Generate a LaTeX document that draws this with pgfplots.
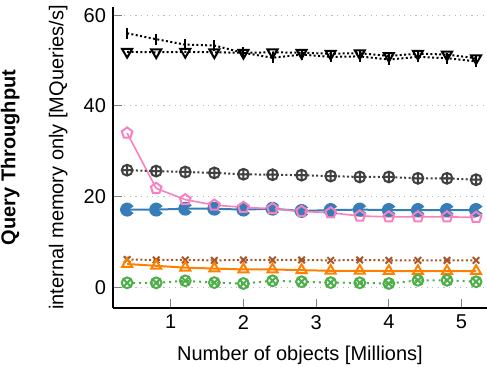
\documentclass[border=0pt]{standalone}
\usepackage{fontspec}
\setmainfont{Liberation Sans}
\usepackage{pgfplots}
\pgfplotsset{compat=1.18}
\definecolor{cblack}{HTML}{000000}
\definecolor{cdgray}{HTML}{404040}
\definecolor{cpink}{HTML}{F781BF}
\definecolor{cblue}{HTML}{377EB8}
\definecolor{cbrown}{HTML}{A65628}
\definecolor{corange}{HTML}{FF7F00}
\definecolor{cgreen}{HTML}{4DAF4A}
\pgfdeclareplotmark{pacman}{%
  \pgfpathmoveto{\pgfpointorigin}%
  \pgfpathlineto{\pgfpointpolar{35}{\pgfplotmarksize}}%
  \pgfpatharc{35}{325}{\pgfplotmarksize}%
  \pgfpathclose
  \pgfusepathqfillstroke}
\begin{document}
\begin{tikzpicture}
\begin{axis}[
  scale only axis,
  width=187pt, height=150.5pt,
  xmin=0.206, xmax=5.35,
  ymin=-4.6, ymax=61.8,
  axis lines*=left,
  axis line style={-, line width=1pt},
  xtick={1,2,3,4,5},
  ytick={0,20,40,60},
  tick align=inside,
  major tick length=4.5pt,
  tick style={gray, line width=0.5pt},
  ymajorgrids,
  major grid style={gray!55, dash pattern=on 0.6pt off 2.2pt, line width=0.5pt},
  /pgf/number format/assume math mode=true,
  ticklabel style={font=\normalsize},
  xlabel={Number of objects [Millions]},
  xlabel style={at={(axis description cs:0.5,0)}, anchor=center, yshift=-23.5pt},
  ylabel={\textbf{Query Throughput}\\[12pt]internal memory only [MQueries/s]},
  ylabel style={align=center, at={(axis description cs:-0.211,0.5)}, anchor=center, rotate=0},
  every axis plot/.append style={line width=1pt},
]
% blue pacman
\addplot[color=cblue, mark=pacman, mark size=3pt, mark options={solid, fill=cblue}] coordinates {
(0.4,17.1)(0.8,17.1)(1.2,17.3)(1.6,17.3)(2.0,17.1)(2.4,17.3)(2.8,16.8)(3.2,17.0)(3.6,17.1)(4.0,17.0)(4.4,17.0)(4.8,17.0)(5.2,17.0)};
% pink pentagon
\addplot[color=cpink, line width=0.8pt, mark=pentagon, mark size=2.8pt, mark options={solid, line width=1pt}] coordinates {
(0.4,34.0)(0.8,21.8)(1.2,19.3)(1.6,18.1)(2.0,17.6)(2.4,17.3)(2.8,16.7)(3.2,16.4)(3.6,15.7)(4.0,15.5)(4.4,15.5)(4.8,15.5)(5.2,15.4)};
% dark gray oplus
\addplot[color=cdgray, dash pattern=on 1pt off 1.2pt, mark=oplus, mark size=2.7pt, mark options={solid}] coordinates {
(0.4,25.8)(0.8,25.6)(1.2,25.4)(1.6,25.2)(2.0,24.9)(2.4,24.8)(2.8,24.7)(3.2,24.5)(3.6,24.3)(4.0,24.3)(4.4,24.0)(4.8,24.0)(5.2,23.7)};
% black bar
\addplot[color=cblack, dash pattern=on 1pt off 1.2pt, mark=|, mark size=2.7pt, mark options={solid}] coordinates {
(0.4,56.0)(0.8,54.7)(1.2,53.5)(1.6,53.3)(2.0,51.7)(2.4,50.6)(2.8,51.3)(3.2,50.8)(3.6,50.9)(4.0,50.2)(4.4,50.8)(4.8,50.5)(5.2,49.8)};
% black down triangle
\addplot[color=cblack, dash pattern=on 1pt off 1.2pt, mark=triangle, mark size=2.9pt, mark options={solid, rotate=180}] coordinates {
(0.4,51.9)(0.8,51.8)(1.2,51.9)(1.6,51.8)(2.0,51.7)(2.4,51.8)(2.8,51.7)(3.2,51.5)(3.6,51.6)(4.0,51.0)(4.4,51.5)(4.8,51.3)(5.2,50.5)};
% brown x
\addplot[color=cbrown, dash pattern=on 1pt off 1.2pt, mark=x, mark size=2.3pt, mark options={solid}] coordinates {
(0.4,6.1)(0.8,6.0)(1.2,6.0)(1.6,5.9)(2.0,6.0)(2.4,6.0)(2.8,6.0)(3.2,5.9)(3.6,6.0)(4.0,5.9)(4.4,5.9)(4.8,5.9)(5.2,5.9)};
% orange triangle
\addplot[color=corange, mark=triangle, mark size=2.9pt, mark options={solid}] coordinates {
(0.4,5.1)(0.8,4.7)(1.2,4.3)(1.6,4.1)(2.0,3.9)(2.4,3.9)(2.8,3.75)(3.2,3.6)(3.6,3.6)(4.0,3.55)(4.4,3.55)(4.8,3.55)(5.2,3.55)};
% green otimes
\addplot[color=cgreen, dash pattern=on 1pt off 2pt, mark=otimes, mark size=2.7pt, mark options={solid}] coordinates {
(0.4,0.95)(0.8,0.95)(1.2,1.4)(1.6,1.0)(2.0,0.8)(2.4,1.4)(2.8,1.2)(3.2,1.0)(3.6,0.95)(4.0,0.8)(4.4,1.5)(4.8,1.5)(5.2,1.2)};
\coordinate (sw) at (rel axis cs:0,0);
\end{axis}
\pgfresetboundingbox
\path (sw) ++(-56.5pt,-29.5pt) rectangle ++(243.5pt,183.5pt);
\end{tikzpicture}
\end{document}
